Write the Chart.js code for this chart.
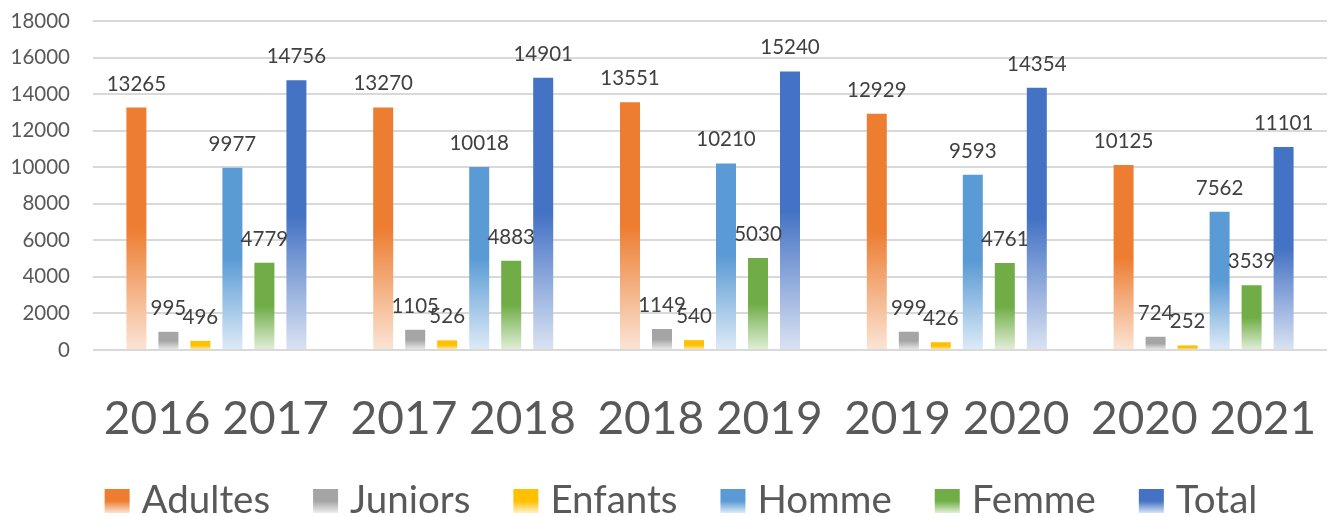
<!DOCTYPE html>
<html><head><meta charset="utf-8">
<script src="https://cdn.jsdelivr.net/npm/chart.js@4.4.1/dist/chart.umd.min.js"></script>
<style>html,body{margin:0;padding:0;background:#fff}#wrap{width:1329px;height:516px}</style>
</head><body><div id="wrap"><canvas id="c" width="1329" height="516"></canvas></div>
<script>
const categories = ['2016 2017', '2017 2018', '2018 2019', '2019 2020', '2020 2021'];
const seriesNames = ['Adultes', 'Juniors', 'Enfants', 'Homme', 'Femme', 'Total'];
const adultes = [13265, 13270, 13551, 12929, 10125];
const juniors = [995, 1105, 1149, 999, 724];
const enfants = [496, 526, 540, 426, 252];
const homme = [9977, 10018, 10210, 9593, 7562];
const femme = [4779, 4883, 5030, 4761, 3539];
const total = [14756, 14901, 15240, 14354, 11101];
const yTickValues = [0, 2000, 4000, 6000, 8000, 10000, 12000, 14000, 16000, 18000];
const seriesColors = ['#ED7D31', '#A5A5A5', '#FFC000', '#5B9BD5', '#70AD47', '#4472C4'];

const FONT = 'Lato';

function lighten(hex, t) {
  const n = parseInt(hex.slice(1), 16);
  const r = (n >> 16) & 255, g = (n >> 8) & 255, b = n & 255;
  const m = v => Math.round(v + (255 - v) * t);
  return 'rgb(' + m(r) + ',' + m(g) + ',' + m(b) + ')';
}

function barGradient(color) {
  return function (ctx) {
    const chart = ctx.chart;
    if (!chart.chartArea || ctx.raw == null) return color;
    const ys = chart.scales.y;
    const top = ys.getPixelForValue(ctx.raw);
    const base = ys.getPixelForValue(0);
    if (!isFinite(top) || !isFinite(base) || base - top < 1) return color;
    const g = chart.ctx.createLinearGradient(0, top, 0, base);
    g.addColorStop(0, color);
    g.addColorStop(0.5, color);
    g.addColorStop(1, lighten(color, 0.8));
    return g;
  };
}

const seriesData = [adultes, juniors, enfants, homme, femme, total];

const dataLabels = {
  id: 'dataLabels',
  afterDatasetsDraw(chart) {
    const c = chart.ctx;
    c.save();
    c.font = '20.5px ' + FONT;
    c.fillStyle = '#404040';
    c.textAlign = 'center';
    c.textBaseline = 'alphabetic';
    chart.data.datasets.forEach((ds, i) => {
      const meta = chart.getDatasetMeta(i);
      meta.data.forEach((el, j) => {
        c.fillText(String(ds.data[j]), el.x, el.y - 17);
      });
    });
    c.restore();
  }
};

const customLegend = {
  id: 'customLegend',
  afterDraw(chart) {
    const c = chart.ctx;
    c.save();
    c.font = '38.5px ' + FONT;
    const boxW = 25, boxH = 24, gapText = 12, gapItem = 43;
    const widths = seriesNames.map(n => c.measureText(n).width);
    let totalW = 0;
    widths.forEach((w, i) => { totalW += boxW + gapText + w + (i < widths.length - 1 ? gapItem : 0); });
    let x = 681 - totalW / 2;
    const boxTop = 489, baseline = 513;
    seriesNames.forEach((n, i) => {
      const col = seriesColors[i];
      const g = c.createLinearGradient(0, boxTop, 0, boxTop + boxH);
      g.addColorStop(0, col);
      g.addColorStop(0.5, col);
      g.addColorStop(1, lighten(col, 0.8));
      c.fillStyle = g;
      c.fillRect(x, boxTop, boxW, boxH);
      c.fillStyle = '#595959';
      c.textAlign = 'left';
      c.textBaseline = 'alphabetic';
      c.fillText(n, x + boxW + gapText, baseline);
      x += boxW + gapText + widths[i] + gapItem;
    });
    c.restore();
  }
};

new Chart(document.getElementById('c'), {
  type: 'bar',
  data: {
    labels: categories,
    datasets: seriesNames.map((name, i) => ({
      label: name,
      data: seriesData[i],
      backgroundColor: barGradient(seriesColors[i]),
      borderWidth: 0,
      categoryPercentage: 0.778,
      barPercentage: 0.625
    }))
  },
  options: {
    responsive: false,
    devicePixelRatio: 1,
    animation: false,
    layout: { padding: { left: 0, right: 2, top: 21, bottom: 60 } },
    plugins: {
      legend: { display: false },
      tooltip: { enabled: false }
    },
    scales: {
      x: {
        grid: { display: false },
        border: { display: false },
        ticks: {
          color: '#595959',
          font: { family: FONT, size: 46, lineHeight: 2.65 },
          padding: 0,
          maxRotation: 0,
          autoSkip: false
        },
        afterFit(s) { s.height = 516 - 60 - 350; s.paddingLeft = 0; s.paddingRight = 0; }
      },
      y: {
        min: 0,
        max: 18000,
        afterBuildTicks(s) { s.ticks = yTickValues.map(v => ({ value: v })); },
        grid: { color: '#D9D9D9', lineWidth: 2, drawTicks: false },
        border: { display: false },
        ticks: {
          color: '#595959',
          font: { family: FONT, size: 20.5 },
          padding: 23,
          callback: v => String(v)
        },
        afterFit(s) { s.width = 93; s.paddingTop = 0; s.paddingBottom = 0; }
      }
    }
  },
  plugins: [dataLabels, customLegend]
});
</script>
</body></html>
